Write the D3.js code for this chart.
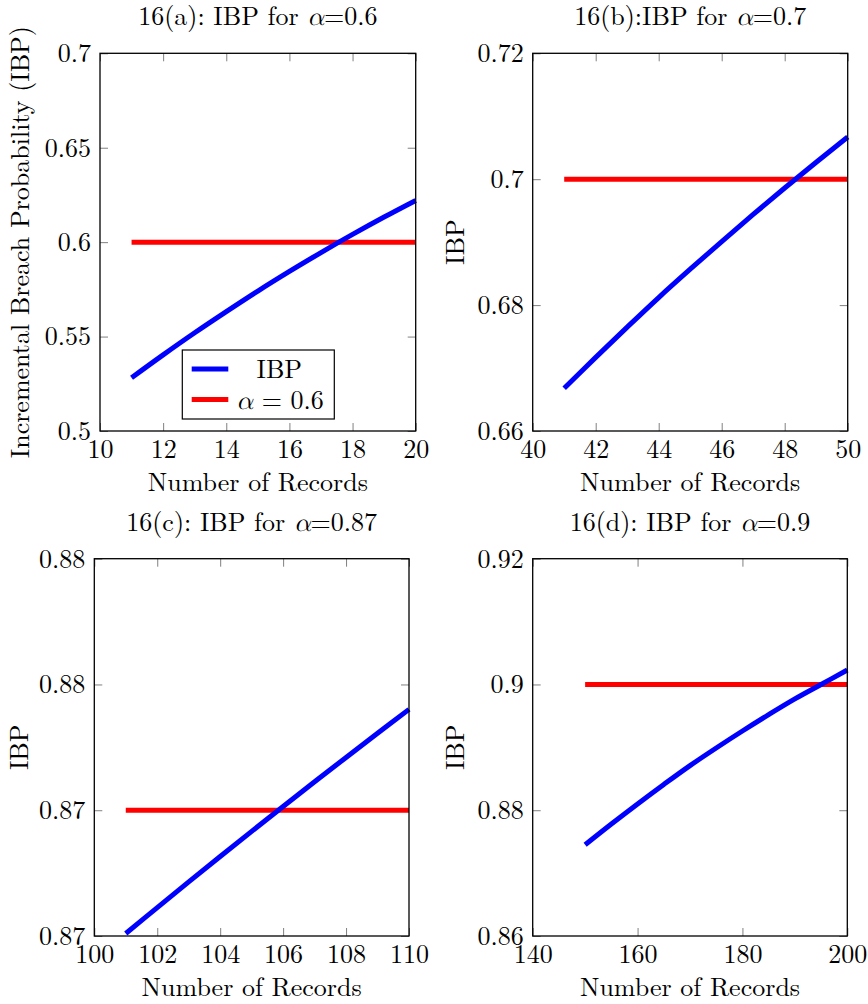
<!DOCTYPE html>
<html>
<head>
<meta charset="utf-8">
<script src="https://cdn.jsdelivr.net/npm/d3@7"></script>
<style>
  body { margin: 0; background: #fff; }
</style>
</head>
<body>
<div id="chart"></div>
<script>
// Panel (a): alpha = 0.6
const recordsA = [11, 12, 13, 14, 15, 16, 17, 18, 19, 20];
const ibpA = [0.5282, 0.5403, 0.5520, 0.5632, 0.5741, 0.5845, 0.5945, 0.6041, 0.6133, 0.6221];
const alphaA = 0.6;
const xTicksA = [10, 12, 14, 16, 18, 20];
const yTicksA = [0.5, 0.55, 0.6, 0.65, 0.7];
const yLabelsA = ["0.5", "0.55", "0.6", "0.65", "0.7"];

// Panel (b): alpha = 0.7
const recordsB = [41, 42, 43, 44, 45, 46, 47, 48, 49, 50];
const ibpB = [0.6668, 0.6717, 0.6765, 0.6812, 0.6857, 0.6901, 0.6944, 0.6986, 0.7027, 0.7067];
const alphaB = 0.7;
const xTicksB = [40, 42, 44, 46, 48, 50];
const yTicksB = [0.66, 0.68, 0.7, 0.72];
const yLabelsB = ["0.66", "0.68", "0.7", "0.72"];

// Panel (c): alpha = 0.87
const recordsC = [101, 102, 103, 104, 105, 106, 107, 108, 109, 110];
const ibpC = [0.86510, 0.86613, 0.86715, 0.86816, 0.86916, 0.87015, 0.87113, 0.87210, 0.87306, 0.87401];
const alphaC = 0.87;
const xTicksC = [100, 102, 104, 106, 108, 110];
const yTicksC = [0.865, 0.87, 0.875, 0.88];
const yLabelsC = ["0.87", "0.87", "0.88", "0.88"];

// Panel (d): alpha = 0.9
const recordsD = [150, 155, 160, 165, 170, 175, 180, 185, 190, 195, 200];
const ibpD = [0.8745, 0.8778, 0.8810, 0.8841, 0.8871, 0.8899, 0.8926, 0.8952, 0.8977, 0.9000, 0.9023];
const alphaD = 0.9;
const xTicksD = [140, 160, 180, 200];
const yTicksD = [0.86, 0.88, 0.9, 0.92];
const yLabelsD = ["0.86", "0.88", "0.9", "0.92"];

const panels = [
  { id: "a", title: ["16(a): IBP for ", "0.6"], x: recordsA, y: ibpA, alpha: alphaA,
    xTicks: xTicksA, yTicks: yTicksA, yLabels: yLabelsA, yTitle: "Incremental Breach Probability (IBP)",
    box: { left: 100, right: 415.7, top: 53.3, bottom: 431 }, yLabelX: 20, legend: true },
  { id: "b", title: ["16(b):IBP for ", "0.7"], x: recordsB, y: ibpB, alpha: alphaB,
    xTicks: xTicksB, yTicks: yTicksB, yLabels: yLabelsB, yTitle: "IBP",
    box: { left: 532.7, right: 847.7, top: 53.3, bottom: 431 }, yLabelX: 455 },
  { id: "c", title: ["16(c): IBP for ", "0.87"], x: recordsC, y: ibpC, alpha: alphaC,
    xTicks: xTicksC, yTicks: yTicksC, yLabels: yLabelsC, yTitle: "IBP",
    box: { left: 94.3, right: 409, top: 558.7, bottom: 936 }, yLabelX: 19 },
  { id: "d", title: ["16(d): IBP for ", "0.9"], x: recordsD, y: ibpD, alpha: alphaD,
    xTicks: xTicksD, yTicks: yTicksD, yLabels: yLabelsD, yTitle: "IBP",
    box: { left: 532.7, right: 847.3, top: 558.7, bottom: 936 }, yLabelX: 455 }
];

const FONT = "'Latin Modern Roman', 'Liberation Serif', serif";
const GREEK = "'Latin Modern Math', 'DejaVu Serif', serif";
const fontSize = 26;
const tickLen = 8;

const svg = d3.select("#chart")
  .append("svg")
  .attr("width", 868)
  .attr("height", 1004)
  .style("font-family", FONT);

const txt = sel => sel.style("font-family", FONT).style("font-size", fontSize + "px").attr("fill", "#000");

panels.forEach(p => {
  const w = p.box.right - p.box.left;
  const h = p.box.bottom - p.box.top;
  const g = svg.append("g").attr("transform", `translate(${p.box.left},${p.box.top})`);

  const x = d3.scaleLinear()
    .domain([p.xTicks[0], p.xTicks[p.xTicks.length - 1]])
    .range([0, w]);
  const y = d3.scaleLinear()
    .domain([p.yTicks[0], p.yTicks[p.yTicks.length - 1]])
    .range([h, 0]);

  // axes with inward ticks on all four sides
  const styleAxis = sel => {
    sel.attr("font-family", null).attr("font-size", null);
    sel.select(".domain").remove();
    sel.selectAll(".tick line").attr("stroke", "#808080").attr("stroke-width", 1);
    sel.selectAll(".tick text").call(txt);
  };

  g.append("g")
    .attr("transform", `translate(0,${h})`)
    .call(d3.axisBottom(x).tickValues(p.xTicks).tickFormat(d3.format("d"))
      .tickSizeInner(-tickLen).tickSizeOuter(0).tickPadding(9))
    .call(styleAxis);

  g.append("g")
    .call(d3.axisTop(x).tickValues(p.xTicks).tickFormat("")
      .tickSizeInner(-tickLen).tickSizeOuter(0))
    .call(styleAxis);

  g.append("g")
    .call(d3.axisLeft(y).tickValues(p.yTicks).tickFormat((d, i) => p.yLabels[i])
      .tickSizeInner(-tickLen).tickSizeOuter(0).tickPadding(9))
    .call(styleAxis);

  g.append("g")
    .attr("transform", `translate(${w},0)`)
    .call(d3.axisRight(y).tickValues(p.yTicks).tickFormat("")
      .tickSizeInner(-tickLen).tickSizeOuter(0))
    .call(styleAxis);

  const line = d3.line().x(d => x(d[0])).y(d => y(d[1]));
  const smooth = d3.line().x(d => x(d[0])).y(d => y(d[1])).curve(d3.curveCatmullRom);

  // alpha threshold line
  g.append("path")
    .datum(p.x.map(v => [v, p.alpha]))
    .attr("d", line)
    .attr("fill", "none")
    .attr("stroke", "#ff0000")
    .attr("stroke-width", 5);

  // IBP curve
  g.append("path")
    .datum(p.x.map((v, i) => [v, p.y[i]]))
    .attr("d", smooth)
    .attr("fill", "none")
    .attr("stroke", "#0000ff")
    .attr("stroke-width", 5);

  // frame
  g.append("rect")
    .attr("width", w)
    .attr("height", h)
    .attr("fill", "none")
    .attr("stroke", "#000")
    .attr("stroke-width", 1.3);

  // title
  const t = g.append("text")
    .attr("x", w / 2)
    .attr("y", -28)
    .attr("text-anchor", "middle")
    .call(txt);
  t.append("tspan").text(p.title[0]);
  t.append("tspan").attr("font-style", "italic").style("font-family", GREEK).text("α");
  t.append("tspan").text("=" + p.title[1]);

  // x label
  g.append("text")
    .attr("x", w / 2)
    .attr("y", h + 60)
    .attr("text-anchor", "middle")
    .call(txt)
    .text("Number of Records");

  // y label
  g.append("text")
    .attr("transform", `translate(${p.yLabelX - p.box.left},${h / 2}) rotate(-90)`)
    .attr("dy", "0.35em")
    .attr("text-anchor", "middle")
    .call(txt)
    .text(p.yTitle);

  if (p.legend) {
    const lg = g.append("g").attr("transform", `translate(${182.3 - p.box.left},${350 - p.box.top})`);
    lg.append("rect")
      .attr("width", 152)
      .attr("height", 69)
      .attr("fill", "#fff")
      .attr("stroke", "#000")
      .attr("stroke-width", 1.2);
    const items = [
      { color: "#0000ff", label: ["", "IBP"] },
      { color: "#ff0000", label: ["α", " = 0.6"] }
    ];
    items.forEach((it, i) => {
      const yy = 19 + i * 30.5;
      lg.append("line")
        .attr("x1", 9.4).attr("x2", 46)
        .attr("y1", yy).attr("y2", yy)
        .attr("stroke", it.color)
        .attr("stroke-width", 5);
      const tx = lg.append("text")
        .attr("x", i === 0 ? 97 : 54)
        .attr("y", yy)
        .attr("dy", "0.35em")
        .attr("text-anchor", i === 0 ? "middle" : "start")
        .call(txt);
      if (it.label[0]) tx.append("tspan").attr("font-style", "italic").style("font-family", GREEK).text(it.label[0]);
      tx.append("tspan").text(it.label[1]);
    });
  }
});
</script>
</body>
</html>
